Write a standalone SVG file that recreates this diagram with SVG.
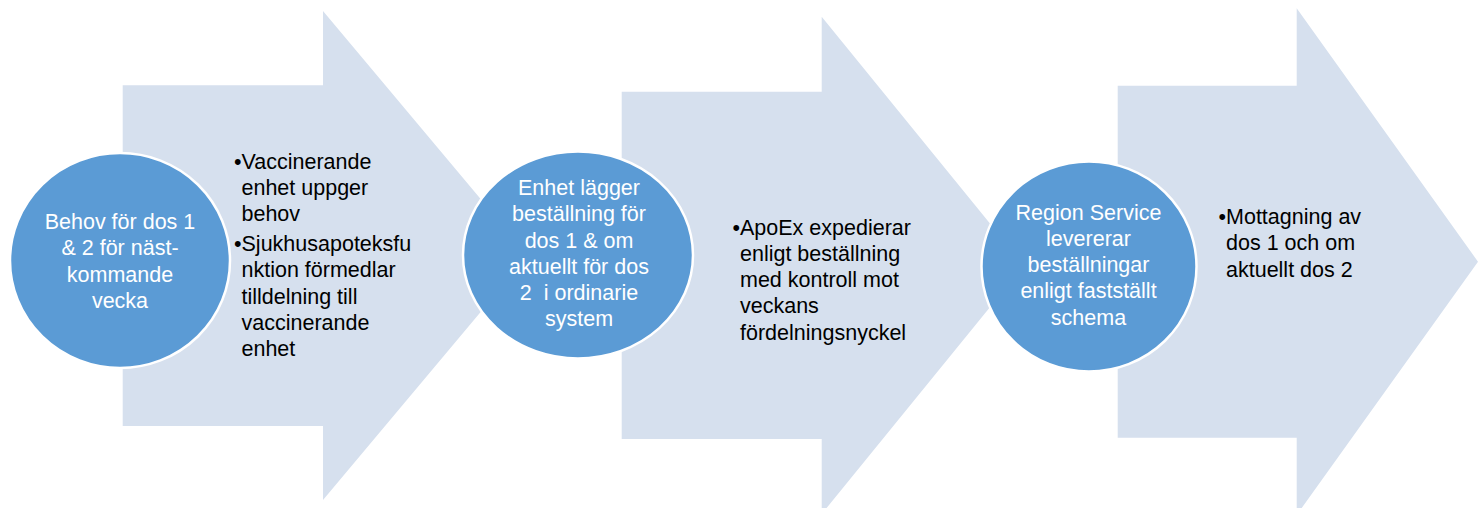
<svg xmlns="http://www.w3.org/2000/svg" width="1483" height="508" viewBox="0 0 1483 508">
<style>
.arrow{fill:#d6e0ee;}
.circle{fill:#5b9bd5;stroke:#ffffff;stroke-width:2.5;}
.ct{font-family:"Liberation Sans",Arial,sans-serif;font-size:21.5px;fill:#ffffff;text-anchor:middle;}
.bt{font-family:"Liberation Sans",Arial,sans-serif;font-size:21.5px;fill:#000000;}
</style>
<rect width="1483" height="508" fill="#ffffff"/>
<g id="arrow1"><polygon class="arrow" points="122.7,85.3 323,85.3 323,11 528,255.5 323,500 323,426 122.7,426"/></g>
<g id="arrow2"><polygon class="arrow" points="621.7,91.7 821.7,91.7 821.7,16.7 1024,265.3 821.7,514 821.7,439 621.7,439"/></g>
<g id="arrow3"><polygon class="arrow" points="1117.7,85.7 1296.7,85.7 1296.7,8.3 1478,261.7 1296.7,515 1296.7,437.7 1117.7,437.7"/></g>
<g id="bullets1" class="bt">
<text x="234" y="169">•Vaccinerande</text>
<text x="241.5" y="195">enhet uppger</text>
<text x="241.5" y="221">behov</text>
<text x="234" y="251">•Sjukhusapoteksfu</text>
<text x="241.5" y="277">nktion förmedlar</text>
<text x="241.5" y="303.5">tilldelning till</text>
<text x="241.5" y="330">vaccinerande</text>
<text x="241.5" y="356">enhet</text>
</g>
<g id="bullets2" class="bt">
<text x="732.5" y="235">•ApoEx expedierar</text>
<text x="740" y="261">enligt beställning</text>
<text x="740" y="287">med kontroll mot</text>
<text x="740" y="313">veckans</text>
<text x="740" y="339.5">fördelningsnyckel</text>
</g>
<g id="bullets3" class="bt">
<text x="1218.5" y="223.5">•Mottagning av</text>
<text x="1226" y="250">dos 1 och om</text>
<text x="1226" y="276.5">aktuellt dos 2</text>
</g>
<g id="circle1">
<ellipse class="circle" cx="120" cy="260.5" rx="110" ry="107.5"/>
<text class="ct" x="120" y="229">Behov för dos 1</text>
<text class="ct" x="120" y="255">&amp; 2 för näst-</text>
<text class="ct" x="120" y="281.5">kommande</text>
<text class="ct" x="120" y="307.5">vecka</text>
</g>
<g id="circle2">
<ellipse class="circle" cx="578" cy="255" rx="115" ry="103.5"/>
<text class="ct" x="579" y="195">Enhet lägger</text>
<text class="ct" x="579" y="221">beställning för</text>
<text class="ct" x="579" y="247.5">dos 1 &amp; om</text>
<text class="ct" x="579" y="273.5">aktuellt för dos</text>
<text class="ct" x="579" y="299.5" xml:space="preserve">2  i ordinarie</text>
<text class="ct" x="579" y="325.5">system</text>
</g>
<g id="circle3">
<ellipse class="circle" cx="1089" cy="266.5" rx="107.5" ry="105"/>
<text class="ct" x="1088.5" y="220">Region Service</text>
<text class="ct" x="1088.5" y="246">levererar</text>
<text class="ct" x="1088.5" y="272">beställningar</text>
<text class="ct" x="1088.5" y="298">enligt fastställt</text>
<text class="ct" x="1088.5" y="324.5">schema</text>
</g>
</svg>
